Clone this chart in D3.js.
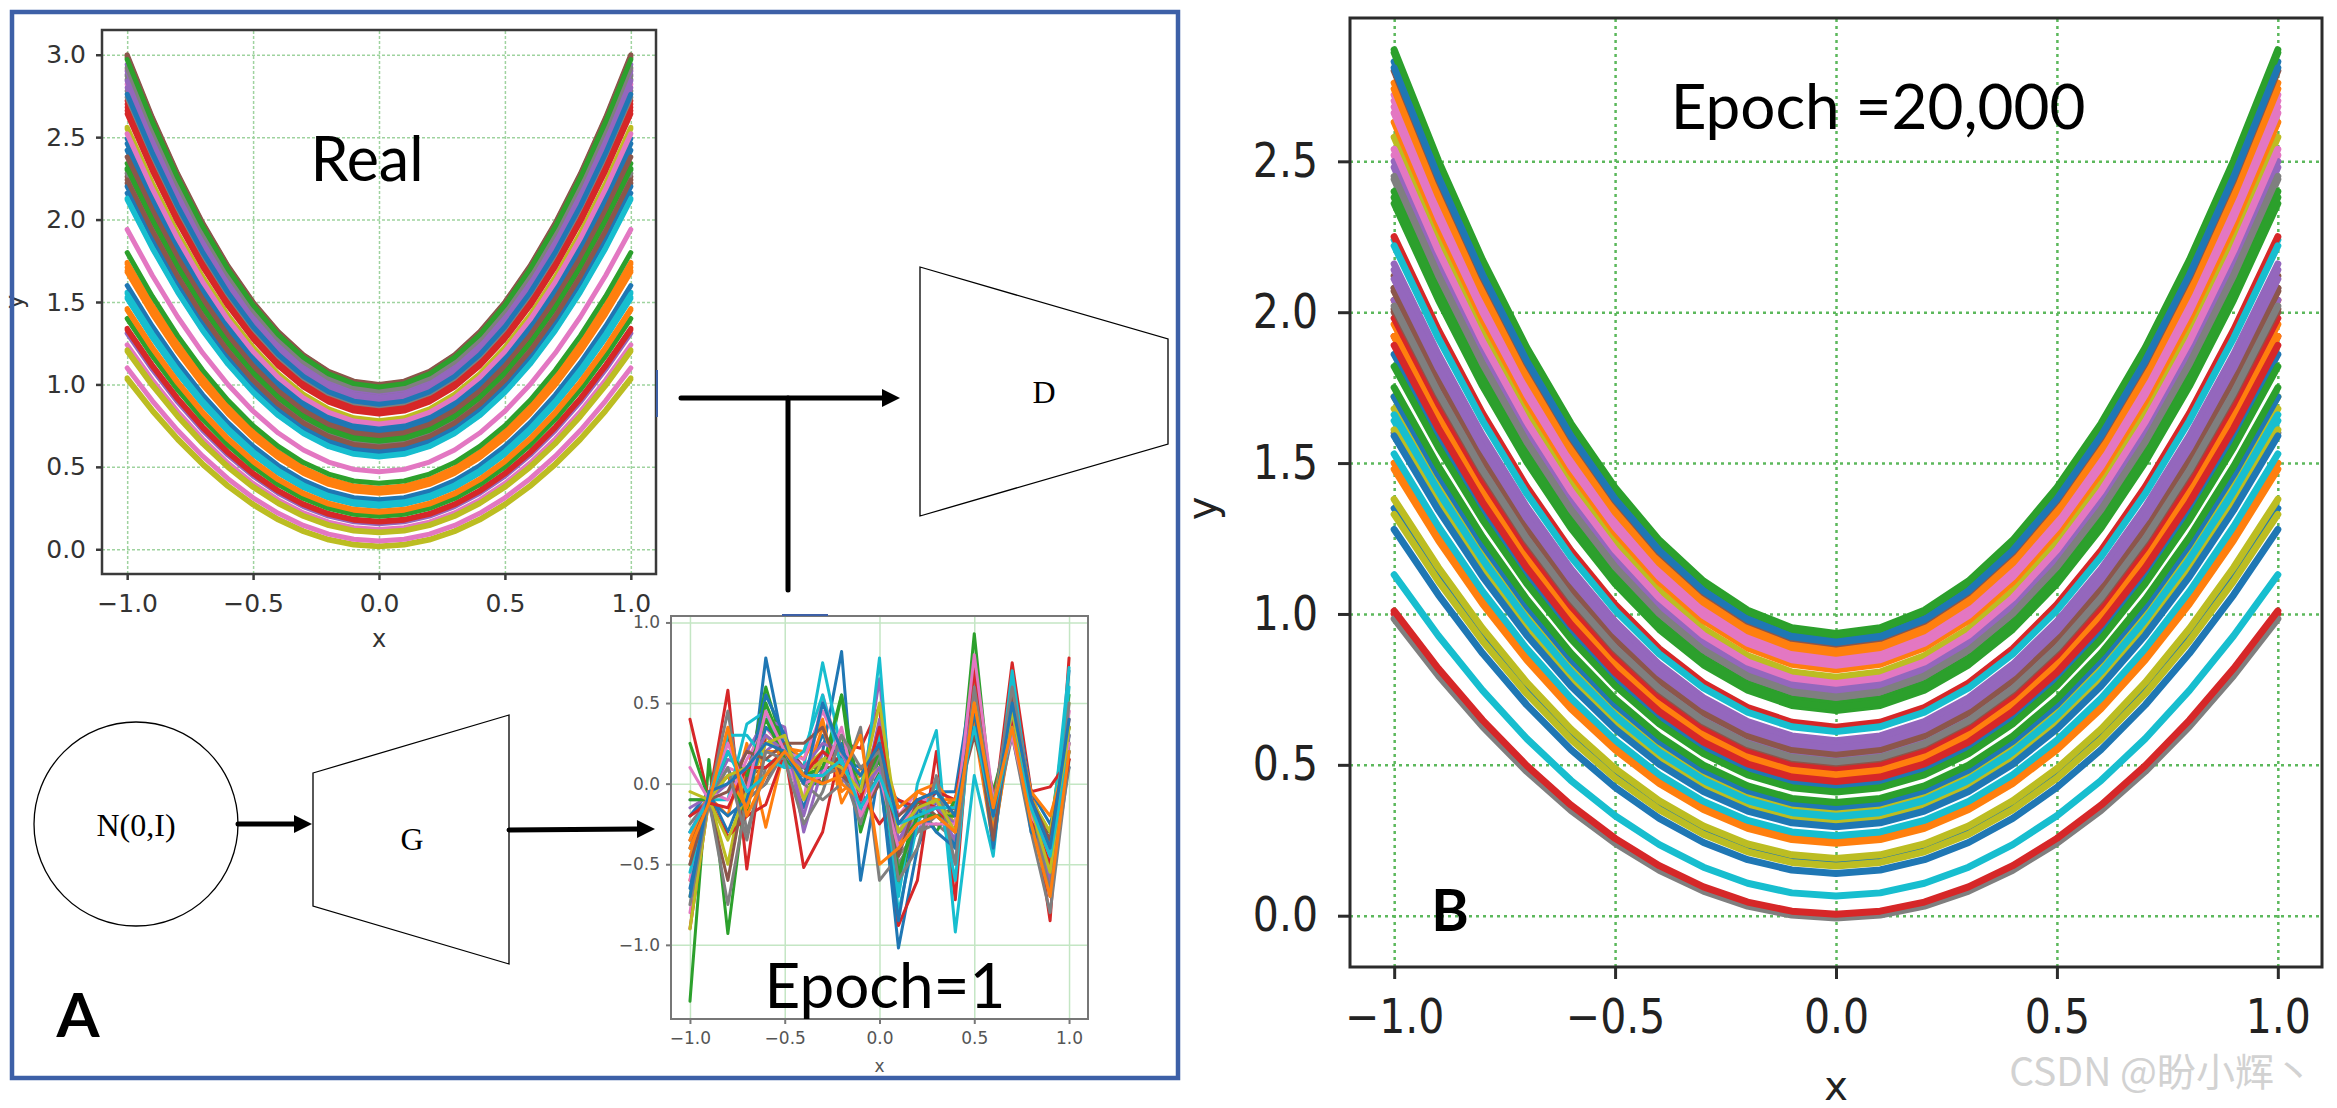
<!DOCTYPE html>
<html>
<head>
<meta charset="utf-8">
<script src="https://cdn.jsdelivr.net/npm/d3@7"></script>
<style>
  html, body { margin: 0; padding: 0; background: #fff; }
  svg { display: block; }
</style>
</head>
<body>
<div id="fig"></div>
<script>
// sample points along x (21 points from -1 to 1)
var paintX = [-1.0, -0.9, -0.8, -0.7, -0.6, -0.5, -0.4, -0.3, -0.2, -0.1, 0.0,
  0.1, 0.2, 0.3, 0.4, 0.5, 0.6, 0.7, 0.8, 0.9, 1.0];

// matplotlib default colour cycle
var tab10 = ['#1f77b4', '#ff7f0e', '#2ca02c', '#d62728', '#9467bd',
  '#8c564b', '#e377c2', '#7f7f7f', '#bcbd22', '#17becf'];

// "Real" paintings: y = a*x^2 + (a-1), one a per curve
var realA = [
  1.73, 1.37, 1.99, 1.86, 1.97, 2.00, 1.955, 1.925, 1.78, 1.56,
  1.71, 1.355, 1.67, 1.84, 1.94, 1.69, 1.91, 1.89, 1.10, 1.28,
  1.58, 1.34, 1.65, 1.82, 1.90, 1.63, 1.47, 1.64, 1.02, 1.26,
  1.30, 1.23, 1.40, 1.17, 1.155, 1.61, 1.12, 1.935, 1.015, 1.565,
  1.745, 1.365, 1.20, 1.85, 1.95, 1.995, 1.05, 1.87, 1.775, 1.275,
  1.60, 1.345, 1.655, 1.83, 1.92, 1.62, 1.76, 1.96, 1.105, 1.265,
  1.88, 1.225, 1.985, 1.165
];

// generator output after 20,000 epochs (same family of curves)
var genA = [
  1.915, 1.88, 1.935, 1.52, 1.74, 1.56, 1.86, 1.72, 1.79, 1.62,
  1.43, 1.815, 1.70, 1.46, 1.58, 1.50, 1.84, 1.54, 1.36, 1.32,
  1.175, 1.48, 1.68, 1.00, 1.52, 1.54, 1.76, 1.30, 1.34, 1.065,
  1.14, 1.25, 1.41, 1.625, 1.57, 1.535, 1.85, 0.992, 1.19, 1.265,
  1.36, 1.46, 1.375, 1.49, 1.75, 1.505, 1.77, 1.51, 1.305, 1.61,
  1.295, 1.87, 1.93, 1.445, 1.555, 1.90, 1.83, 1.725, 1.165, 1.33,
  1.905, 1.24, 1.69, 1.005
];

// generator output after 1 epoch: noisy curves, one row per curve
var noiseY = [
  [-0.40, -0.10, 0.10, -0.20, 0.78, 0.20, -0.15, 0.20, 0.82, -0.60, 0.10, -1.02, -0.40, -0.10, -0.40, 0.60, -0.30, 0.50, -0.20, -0.60, 0.70],
  [-0.60, -0.08, -0.20, 0.25, -0.27, 0.22, 0.20, 0.40, -0.12, 0.10, 0.20, -0.30, -0.10, -0.15, -0.10, 0.35, -0.38, 0.40, -0.05, -0.40, 0.40],
  [-1.35, 0.15, -0.93, 0.00, 0.60, 0.20, 0.00, 0.00, 0.55, -0.30, 0.10, -0.65, -0.20, -0.20, -0.30, 0.93, -0.20, 0.35, -0.25, -0.30, 0.55],
  [0.40, -0.10, 0.58, -0.53, 0.30, 0.20, -0.52, -0.30, 0.25, 0.22, 0.48, -0.88, -0.60, 0.20, -0.72, 0.75, -0.20, 0.75, -0.05, -0.85, 0.78],
  [-0.10, -0.10, 0.00, 0.20, 0.40, 0.35, -0.30, 0.10, 0.10, -0.10, 0.65, -0.50, -0.30, -0.10, -0.50, 0.60, -0.10, 0.50, -0.20, -0.70, 0.30],
  [-0.20, -0.10, 0.30, -0.10, 0.00, 0.25, 0.10, 0.00, 0.20, -0.20, 0.00, -0.30, -0.25, -0.20, -0.20, 0.40, -0.15, 0.40, -0.10, -0.50, 0.20],
  [-0.80, -0.05, 0.10, 0.05, 0.20, 0.15, -0.10, 0.55, 0.15, 0.00, 0.30, -0.20, -0.05, -0.10, -0.25, 0.50, -0.25, 0.55, -0.15, -0.45, 0.45],
  [-0.50, -0.10, 0.45, -0.30, 0.10, 0.20, 0.00, -0.10, 0.00, 0.35, -0.60, -0.45, -0.30, -0.25, -0.35, 0.55, -0.10, 0.30, -0.30, -0.80, 0.15],
  [-0.70, -0.08, -0.50, 0.10, 0.30, 0.15, 0.10, 0.20, 0.10, -0.05, 0.15, -0.25, -0.15, -0.15, -0.20, 0.65, -0.20, 0.45, -0.10, -0.30, 0.50],
  [-0.30, -0.10, -0.10, 0.37, 0.45, 0.10, 0.10, 0.75, 0.20, -0.20, 0.78, -0.70, 0.00, 0.33, -0.92, 0.05, -0.45, 0.65, -0.20, -0.40, 0.72],
  [-0.20, -0.05, -0.30, 0.00, 0.55, 0.30, 0.05, 0.30, 0.15, 0.10, 0.00, -0.10, -0.20, -0.05, -0.05, 0.70, -0.30, 0.60, -0.05, -0.25, 0.10],
  [-0.45, -0.10, 0.20, 0.00, 0.05, 0.25, 0.15, 0.38, -0.05, 0.05, 0.30, -0.40, -0.05, 0.00, -0.15, 0.50, -0.35, 0.35, -0.10, -0.55, 0.25],
  [0.25, -0.10, 0.05, -0.20, 0.50, 0.20, 0.05, 0.10, 0.55, -0.10, 0.15, -0.60, -0.10, -0.30, -0.10, 0.45, -0.05, 0.40, -0.25, -0.45, 0.35],
  [-0.90, -0.10, -0.33, -0.20, -0.13, 0.20, 0.10, 0.15, 0.15, -0.05, -0.25, -0.10, -0.15, -0.05, -0.10, 0.55, -0.10, 0.45, -0.05, -0.02, 0.15],
  [-0.15, -0.08, 0.15, 0.10, 0.20, 0.30, -0.20, 0.20, 0.05, -0.15, 0.40, -0.35, -0.20, -0.15, -0.35, 0.60, -0.20, 0.50, -0.15, -0.60, 0.40],
  [-0.35, -0.12, -0.60, 0.05, 0.10, 0.20, 0.10, 0.10, 0.10, 0.00, 0.00, -0.20, -0.10, -0.20, -0.15, 0.30, -0.15, 0.35, -0.20, -0.35, 0.20],
  [-0.60, -0.05, -0.10, 0.15, 0.35, 0.20, 0.15, 0.45, 0.20, -0.10, 0.10, -0.30, -0.10, -0.10, -0.30, 0.55, -0.20, 0.60, -0.10, -0.50, 0.45],
  [-0.25, -0.10, -0.75, -0.10, 0.00, 0.20, 0.00, 0.05, 0.10, -0.25, 0.20, -0.50, -0.30, -0.20, -0.20, 0.50, -0.25, 0.30, -0.25, -0.65, 0.10],
  [-0.90, -0.10, -0.35, -0.05, 0.25, 0.25, 0.05, 0.15, 0.20, 0.00, 0.10, -0.30, -0.20, -0.10, -0.25, 0.70, -0.15, 0.45, -0.10, -0.30, 0.35],
  [-0.55, -0.08, 0.30, 0.30, 0.15, 0.10, 0.20, 0.55, 0.10, 0.00, 0.30, -0.80, -0.25, 0.00, -0.60, 0.60, -0.30, 0.70, -0.15, -0.55, 0.60],
  [-0.65, -0.10, -0.20, -0.10, 0.35, 0.25, 0.00, 0.10, 0.25, -0.15, 0.05, -0.85, -0.15, -0.30, -0.40, 0.50, -0.40, 0.50, -0.30, -0.40, 0.25],
  [-0.35, -0.05, 0.05, -0.15, 0.20, 0.20, 0.00, 0.35, 0.00, -0.10, 0.25, -0.15, -0.05, -0.10, -0.10, 0.40, -0.30, 0.50, -0.05, -0.20, 0.20],
  [-0.10, -0.10, 0.20, 0.05, 0.40, 0.15, 0.05, 0.10, 0.30, -0.05, 0.20, -0.55, -0.20, -0.20, -0.20, 0.45, -0.20, 0.40, -0.20, -0.35, 0.30],
  [-0.20, -0.12, -0.15, 0.10, 0.10, 0.20, 0.05, 0.20, 0.10, -0.10, 0.35, -0.25, -0.10, -0.15, -0.30, 0.70, -0.10, 0.40, -0.20, -0.50, 0.15],
  [-0.30, -0.08, 0.00, 0.10, 0.30, 0.20, 0.10, 0.25, 0.20, -0.05, 0.10, -0.35, -0.15, -0.15, -0.25, 0.55, -0.20, 0.45, -0.15, -0.45, 0.30],
  [-0.50, -0.10, -0.05, 0.20, 0.15, 0.25, 0.25, 0.35, 0.05, -0.05, 0.25, -0.45, -0.10, -0.05, -0.20, 0.45, -0.35, 0.55, -0.10, -0.35, 0.35],
  [0.10, -0.10, 0.25, -0.05, 0.45, 0.20, 0.00, 0.05, 0.35, -0.20, 0.05, -0.40, -0.25, -0.25, -0.25, 0.80, -0.10, 0.30, -0.20, -0.40, 0.25],
  [-0.75, -0.10, 0.10, -0.35, 0.20, 0.15, -0.25, -0.05, 0.30, 0.10, 0.20, -0.60, -0.40, 0.05, -0.50, 0.60, -0.15, 0.60, -0.10, -0.70, 0.50],
  [-0.05, -0.10, 0.05, 0.10, 0.25, 0.30, -0.10, 0.15, 0.10, -0.05, 0.50, -0.30, -0.15, -0.10, -0.30, 0.50, -0.15, 0.45, -0.15, -0.55, 0.35],
  [-0.30, -0.10, 0.20, -0.05, 0.05, 0.20, 0.05, 0.05, 0.15, -0.15, 0.05, -0.25, -0.20, -0.15, -0.15, 0.35, -0.20, 0.35, -0.15, -0.45, 0.20],
  [-0.70, -0.05, 0.00, 0.10, 0.25, 0.20, 0.00, 0.50, 0.20, 0.05, 0.25, -0.25, -0.10, -0.05, -0.20, 0.45, -0.20, 0.50, -0.10, -0.40, 0.40],
  [-0.40, -0.12, 0.35, -0.20, 0.05, 0.20, 0.05, 0.00, 0.05, 0.30, -0.50, -0.40, -0.25, -0.20, -0.30, 0.50, -0.15, 0.35, -0.25, -0.70, 0.20]
];

var xTicks = [-1.0, -0.5, 0.0, 0.5, 1.0];
var realYTicks = [0.0, 0.5, 1.0, 1.5, 2.0, 2.5, 3.0];
var noiseYTicks = [-1.0, -0.5, 0.0, 0.5, 1.0];
var genYTicks = [0.0, 0.5, 1.0, 1.5, 2.0, 2.5];

var W = 2337, H = 1108;
var fmt = d3.format('.1f');

var svg = d3.select('#fig').append('svg')
  .attr('width', W)
  .attr('height', H)
;
svg.append('rect').attr('width', W).attr('height', H).attr('fill', '#fff');

function parabola(a) {
  return paintX.map(function(x) { return [x, a * x * x + a - 1]; });
}

function noisy(ys) {
  return ys.map(function(y, i) { return [paintX[i], y]; });
}

function panel(o) {
  var x = d3.scaleLinear().domain(o.xDomain).range([o.left, o.right]);
  var y = d3.scaleLinear().domain(o.yDomain).range([o.bottom, o.top]);
  var g = svg.append('g');
  var clipId = 'clip' + o.id;
  var stretch = o.tickStretch || 1;

  g.append('clipPath').attr('id', clipId)
    .append('rect')
      .attr('x', o.left).attr('y', o.top)
      .attr('width', o.right - o.left).attr('height', o.bottom - o.top);

  function styleGrid(s) {
    s.select('.domain').remove();
    s.selectAll('text').remove();
    s.selectAll('line')
      .attr('stroke', o.gridColor)
      .attr('stroke-width', o.gridWidth)
      .attr('stroke-dasharray', o.gridDash);
  }

  // grid lines
  g.append('g')
    .attr('transform', 'translate(0,' + o.bottom + ')')
    .call(d3.axisBottom(x).tickValues(xTicks).tickSize(-(o.bottom - o.top)))
    .call(styleGrid);
  g.append('g')
    .attr('transform', 'translate(' + o.left + ',0)')
    .call(d3.axisLeft(y).tickValues(o.yTicks).tickSize(-(o.right - o.left)))
    .call(styleGrid);

  // curves, coloured by matplotlib's cycle
  var line = d3.line()
    .x(function(d) { return x(d[0]); })
    .y(function(d) { return y(d[1]); });

  g.append('g').attr('clip-path', 'url(#' + clipId + ')')
    .selectAll('path')
    .data(o.series)
    .join('path')
      .attr('d', line)
      .attr('fill', 'none')
      .attr('stroke', function(d, i) { return tab10[i % 10]; })
      .attr('stroke-width', o.lineWidth)
      .attr('stroke-linejoin', 'round')
      .attr('stroke-linecap', 'round');

  // frame
  g.append('rect')
    .attr('x', o.left).attr('y', o.top)
    .attr('width', o.right - o.left).attr('height', o.bottom - o.top)
    .attr('fill', 'none')
    .attr('stroke', o.frameColor)
    .attr('stroke-width', o.frameWidth);

  function styleAxis(s) {
    s.select('.domain').remove();
    s.selectAll('line').attr('stroke', o.frameColor).attr('stroke-width', o.frameWidth);
    s.selectAll('text')
      .attr('font-family', 'DejaVu Sans, sans-serif')
      .attr('font-size', o.tickFont)
      .attr('fill', o.tickColor)
      .attr('transform', 'scale(1,' + stretch + ')');
  }

  g.append('g')
    .attr('transform', 'translate(0,' + o.bottom + ')')
    .call(d3.axisBottom(x).tickValues(xTicks).tickSize(o.tickLen).tickPadding(o.xPad).tickFormat(fmt))
    .call(styleAxis);
  g.append('g')
    .attr('transform', 'translate(' + o.left + ',0)')
    .call(d3.axisLeft(y).tickValues(o.yTicks).tickSize(o.tickLen).tickPadding(o.yPad).tickFormat(fmt))
    .call(styleAxis);

  // axis titles
  g.append('text')
    .attr('x', (o.left + o.right) / 2).attr('y', o.xLabelY)
    .attr('text-anchor', 'middle')
    .attr('font-family', 'DejaVu Sans, sans-serif')
    .attr('font-size', o.labelFont)
    .attr('fill', o.tickColor)
    .text('x');
  if (o.yLabelX != null) {
    g.append('text')
      .attr('transform', 'translate(' + o.yLabelX + ',' + y(o.yLabelAt) + ') rotate(-90)')
      .attr('text-anchor', 'middle')
      .attr('font-family', 'DejaVu Sans, sans-serif')
      .attr('font-size', o.labelFont)
      .attr('fill', o.tickColor)
      .text('y');
  }

  return { x: x, y: y };
}

// ---- Panel A: real curves ----
panel({
  id: 'real', left: 102, right: 656, top: 30, bottom: 574,
  xDomain: [-1.1, 1.1], yDomain: [-0.15, 3.15], yTicks: realYTicks,
  series: realA.map(parabola), lineWidth: 5,
  gridColor: '#9fd39f', gridWidth: 1.5, gridDash: '3,2',
  frameColor: '#3a3a3a', frameWidth: 2.5,
  tickFont: 25, tickColor: '#333', tickLen: 6, xPad: 14, yPad: 10,
  labelFont: 24, xLabelY: 647, yLabelX: 23, yLabelAt: 1.5
});

// ---- Panel A: generator output at epoch 1 (its y title is cropped away) ----
panel({
  id: 'noise', left: 671, right: 1088, top: 616, bottom: 1019,
  xDomain: [-1.1, 1.1], yDomain: [-1.46, 1.04], yTicks: noiseYTicks,
  series: noiseY.map(noisy), lineWidth: 3,
  gridColor: '#c4e6c4', gridWidth: 1.5, gridDash: null,
  frameColor: '#777', frameWidth: 2,
  tickFont: 17, tickColor: '#555', tickLen: 5, xPad: 8, yPad: 6,
  labelFont: 17, xLabelY: 1072, yLabelX: null
});

// ---- Panel B: generator output at epoch 20,000 ----
panel({
  id: 'gen', left: 1350, right: 2322, top: 18, bottom: 967,
  xDomain: [-1.1, 1.1], yDomain: [-0.17, 2.975], yTicks: genYTicks,
  series: genA.map(parabola), lineWidth: 7,
  gridColor: '#5cb85c', gridWidth: 2.5, gridDash: '3,4',
  frameColor: '#2b2b2b', frameWidth: 3,
  tickFont: 41, tickColor: '#222', tickLen: 12, xPad: 16, yPad: 20,
  tickStretch: 1.15,
  labelFont: 40, xLabelY: 1100, yLabelX: 1216, yLabelAt: 1.35
});

// ---- diagram shapes ----
var diagram = svg.append('g');

function arrow(x1, y1, x2, y2, head) {
  var ang = Math.atan2(y2 - y1, x2 - x1);
  var bx = x2 - head * Math.cos(ang), by = y2 - head * Math.sin(ang);
  diagram.append('line')
    .attr('x1', x1).attr('y1', y1).attr('x2', bx).attr('y2', by)
    .attr('stroke', '#000').attr('stroke-width', 5).attr('stroke-linecap', 'round');
  var w = head * 0.5;
  var pts = [
    [x2, y2],
    [bx + w * Math.sin(ang), by - w * Math.cos(ang)],
    [bx - w * Math.sin(ang), by + w * Math.cos(ang)]
  ];
  diagram.append('polygon').attr('points', pts.join(' ')).attr('fill', '#000');
}

function trapezoid(pts, label, cx, cy) {
  diagram.append('polygon')
    .attr('points', pts.join(' '))
    .attr('fill', 'none').attr('stroke', '#000').attr('stroke-width', 1.3);
  diagram.append('text')
    .attr('x', cx).attr('y', cy)
    .attr('text-anchor', 'middle')
    .attr('font-family', 'Liberation Serif, serif')
    .attr('font-size', 32)
    .text(label);
}

diagram.append('circle')
  .attr('cx', 136).attr('cy', 824).attr('r', 102)
  .attr('fill', 'none').attr('stroke', '#000').attr('stroke-width', 1.3);
diagram.append('text')
  .attr('x', 136).attr('y', 836)
  .attr('text-anchor', 'middle')
  .attr('font-family', 'Liberation Serif, serif')
  .attr('font-size', 32)
  .text('N(0,I)');

trapezoid([[313, 773], [509, 715], [509, 964], [313, 906]], 'G', 412, 850);
trapezoid([[920, 267], [1168, 339], [1168, 444], [920, 516]], 'D', 1044, 403);

arrow(238, 824, 312, 824, 18);
arrow(509, 830, 655, 829, 18);
arrow(681, 398, 900, 398, 18);
diagram.append('line')
  .attr('x1', 788).attr('y1', 398).attr('x2', 788).attr('y2', 590)
  .attr('stroke', '#000').attr('stroke-width', 5).attr('stroke-linecap', 'round');

// blue box around panel A and small stray blue marks
var blue = '#3d60a7';
svg.append('rect')
  .attr('x', 12).attr('y', 12).attr('width', 1166).attr('height', 1066)
  .attr('fill', 'none').attr('stroke', blue).attr('stroke-width', 4.5);
svg.append('line').attr('x1', 657).attr('y1', 370).attr('x2', 657).attr('y2', 417)
  .attr('stroke', blue).attr('stroke-width', 2);
svg.append('line').attr('x1', 782).attr('y1', 615).attr('x2', 828).attr('y2', 615)
  .attr('stroke', blue).attr('stroke-width', 2);

// ---- titles and panel letters ----
function caption(txt, x, y, size, weight) {
  svg.append('text')
    .attr('x', x).attr('y', y)
    .attr('text-anchor', 'middle')
    .attr('font-family', 'Lato, Open Sans, sans-serif')
    .attr('font-size', size)
    .attr('font-weight', weight || 'normal')
    .attr('fill', '#000')
    .text(txt);
}

caption('Real', 367, 181, 61);
caption('Epoch=1', 885, 1008, 62);
caption('Epoch =20,000', 1878, 129, 62);
caption('A', 78, 1037, 62, 'bold');
caption('B', 1450, 931, 57, 'bold');

// watermark
svg.append('text')
  .attr('x', 2313).attr('y', 1086)
  .attr('text-anchor', 'end')
  .attr('font-family', 'Noto Sans CJK SC, Noto Sans, sans-serif')
  .attr('font-size', 39)
  .attr('fill', '#d2d2d2')
  .text('CSDN @盼小辉丶');
</script>
</body>
</html>
